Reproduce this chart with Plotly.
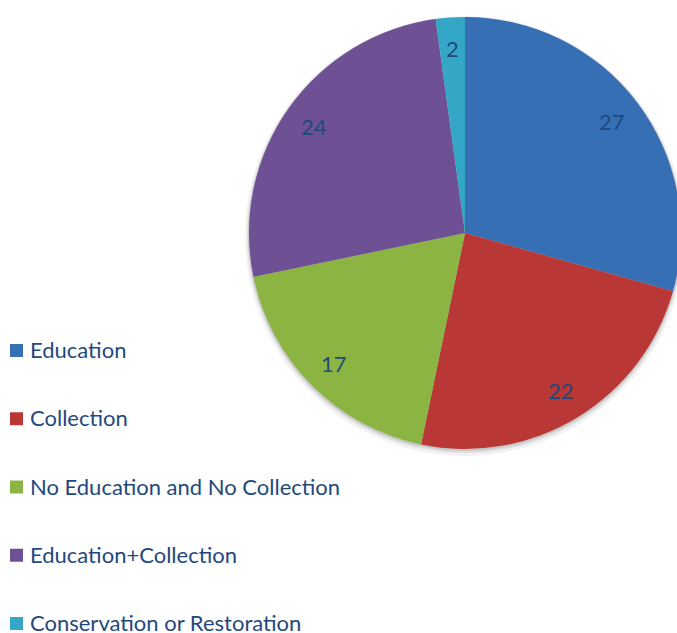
import math
import plotly.graph_objects as go

# Categories and counts
categories = [
    "Education",
    "Collection",
    "No Education and No Collection",
    "Education+Collection",
    "Conservation or Restoration",
]
counts = [27, 22, 17, 24, 2]
colors = ["#376FB5", "#B93734", "#8CB443", "#6E5095", "#34A7C7"]

TEXT_COLOR = "#1F497D"
FONT = "Lato"

W, H = 682, 633
CX, CY, R = 465, 233, 216  # pie centre / radius in pixels


def px_x(x):
    return x / W


def px_y(y):
    return 1 - y / H


fig = go.Figure()

fig.add_trace(
    go.Pie(
        labels=categories,
        values=counts,
        marker=dict(colors=colors, line=dict(width=0)),
        sort=False,
        direction="clockwise",
        rotation=0,
        textinfo="none",
        hoverinfo="label+value",
        showlegend=False,
        domain=dict(
            x=[px_x(CX - R), px_x(CX + R)],
            y=[px_y(CY + R), px_y(CY - R)],
        ),
    )
)

shapes = []
# soft drop shadow under the pie
for grow, dy, alpha in [(4, 3, 0.05), (2, 2, 0.08), (1, 1, 0.10)]:
    shapes.append(
        dict(
            type="circle", xref="paper", yref="paper", layer="below",
            x0=px_x(CX - R - grow), x1=px_x(CX + R + grow),
            y0=px_y(CY + R + grow + dy), y1=px_y(CY - R - grow + dy),
            line=dict(width=0), fillcolor=f"rgba(0,0,0,{alpha})",
        )
    )

annotations = []
# value labels placed along each slice's mid angle
total = sum(counts)
start = 0.0
for v in counts:
    span = v / total * 360
    mid = math.radians(start + span / 2)
    lx = CX + 0.855 * R * math.sin(mid)
    ly = CY - 0.855 * R * math.cos(mid)
    annotations.append(
        dict(
            x=px_x(lx), y=px_y(ly), xref="paper", yref="paper",
            text=str(v), showarrow=False, xanchor="center", yanchor="middle",
            font=dict(family=FONT, size=22, color=TEXT_COLOR),
        )
    )
    start += span

# legend on the left: square swatch + label
LEG_X0, LEG_Y0, LEG_STEP, SW = 10, 350.5, 68.25, 13
for i, (name, col) in enumerate(zip(categories, colors)):
    yc = LEG_Y0 + i * LEG_STEP
    shapes.append(
        dict(
            type="rect", xref="paper", yref="paper",
            x0=px_x(LEG_X0), x1=px_x(LEG_X0 + SW),
            y0=px_y(yc + SW / 2), y1=px_y(yc - SW / 2),
            line=dict(width=0), fillcolor=col,
        )
    )
    annotations.append(
        dict(
            x=px_x(28), y=px_y(yc - 1), xref="paper", yref="paper",
            text=name, showarrow=False, xanchor="left", yanchor="middle",
            font=dict(family=FONT, size=22, color=TEXT_COLOR),
        )
    )

fig.update_layout(
    width=W,
    height=H,
    margin=dict(l=0, r=0, t=0, b=0),
    paper_bgcolor="white",
    plot_bgcolor="white",
    shapes=shapes,
    annotations=annotations,
    showlegend=False,
)

fig.write_html(
    "out.html",
    post_script="document.body.style.overflow='hidden';"
                "document.documentElement.style.overflow='hidden';",
)
